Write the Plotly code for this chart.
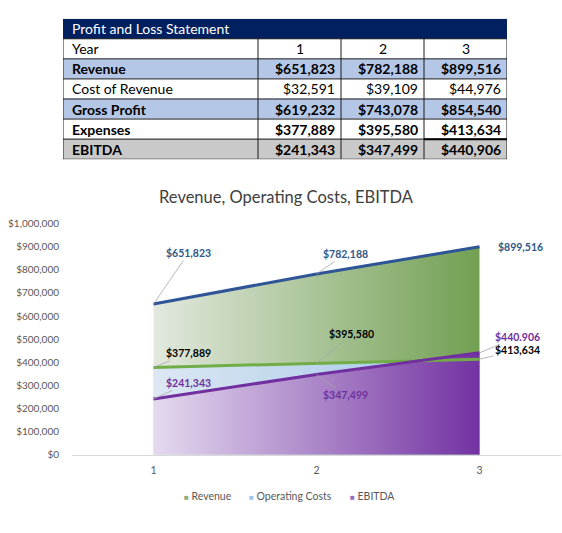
import plotly.graph_objects as go

# Données du compte de résultat
years = [1, 2, 3]
revenue = [651823, 782188, 899516]
cost_of_revenue = [32591, 39109, 44976]
gross_profit = [619232, 743078, 854540]
expenses = [377889, 395580, 413634]
ebitda = [241343, 347499, 440906]

# Tableau : libellés, style de ligne
table_title = "Profit and Loss Statement"
row_labels = ["Year", "Revenue", "Cost of Revenue", "Gross Profit", "Expenses", "EBITDA"]
row_bold = [False, True, False, True, True, True]
row_fill = [1, 2, 1, 2, 1, 3]          # 0 marine, 1 blanc, 2 bleu clair, 3 gris
col_widths = [195, 83, 83, 83]

# étiquettes du graphique (telles qu'affichées)
revenue_labels = ["$651,823", "$782,188", "$899,516"]
expenses_labels = ["$377,889", "$395,580", "$413,634"]
ebitda_labels = ["$241,343", "$347,499", "$440.906"]

# légende
legend_names = ["Revenue", "Operating Costs", "EBITDA"]
legend_colors = ["#8FAF7A", "#9DC3E6", "#9A6CC0"]
legend_left = [182, 247, 348]

FONT = "Lato, 'Open Sans', sans-serif"
W, H = 562, 533


def px(x):
    return x / W


def py(y):
    return 1 - y / H


def money(v):
    return f"${v:,}"


row_values = [
    [str(y) for y in years],
    [money(v) for v in revenue],
    [money(v) for v in cost_of_revenue],
    [money(v) for v in gross_profit],
    [money(v) for v in expenses],
    [money(v) for v in ebitda],
]

col_edges = [0]
for w in col_widths:
    col_edges.append(col_edges[-1] + w)
n_rows = len(row_labels) + 1
row_edges = list(range(n_rows + 1))

fig = go.Figure()

# --- Tableau : fonds de cellules ---
z = [[0] * len(col_widths)] + [[f] * len(col_widths) for f in row_fill]
fig.add_trace(go.Heatmap(
    x=col_edges, y=row_edges, z=z, xaxis="x2", yaxis="y2",
    zmin=0, zmax=3, showscale=False, hoverinfo="skip",
    colorscale=[[0, "#002060"], [1 / 6, "#002060"], [1 / 6, "#FFFFFF"], [0.5, "#FFFFFF"],
                [0.5, "#B4C7E7"], [5 / 6, "#B4C7E7"], [5 / 6, "#C9C9C9"], [1, "#C9C9C9"]],
))

# --- Tableau : quadrillage ---
gx, gy = [], []
for r in row_edges[1:]:
    gx += [col_edges[0], col_edges[-1], None]
    gy += [r, r, None]
for c in col_edges:
    gx += [c, c, None]
    gy += [row_edges[1], row_edges[-1], None]
fig.add_trace(go.Scatter(x=gx, y=gy, xaxis="x2", yaxis="y2", mode="lines",
                         line=dict(color="#1A1A1A", width=1), showlegend=False,
                         hoverinfo="skip"))
# bordure plus épaisse sous la dernière cellule "Expenses"
fig.add_trace(go.Scatter(x=col_edges[-2:], y=[row_edges[-2]] * 2, xaxis="x2", yaxis="y2",
                         mode="lines", line=dict(color="#000000", width=2),
                         showlegend=False, hoverinfo="skip"))

# --- Tableau : textes ---
fig.add_annotation(x=col_edges[0], y=0.5, xref="x2", yref="y2", text=table_title,
                   showarrow=False, xanchor="left", xshift=7,
                   font=dict(family=FONT, size=14, color="white"))
for r, label in enumerate(row_labels):
    yy = r + 1.5
    txt = f"<b>{label}</b>" if row_bold[r] else label
    fig.add_annotation(x=col_edges[0], y=yy, xref="x2", yref="y2", text=txt,
                       showarrow=False, xanchor="left", xshift=7,
                       font=dict(family=FONT, size=14, color="black"))
    for c, val in enumerate(row_values[r]):
        txt = f"<b>{val}</b>" if row_bold[r] else val
        if r == 0:
            xx, anchor, shift = (col_edges[c + 1] + col_edges[c + 2]) / 2, "center", 0
        else:
            xx, anchor, shift = col_edges[c + 2], "right", -4
        fig.add_annotation(x=xx, y=yy, xref="x2", yref="y2", text=txt,
                           showarrow=False, xanchor=anchor, xshift=shift,
                           font=dict(family=FONT, size=14, color="black"))

# --- Graphique : aires en dégradé ---
fig.add_trace(go.Scatter(
    x=years, y=revenue, mode="lines", line=dict(width=0), fill="tozeroy",
    fillgradient=dict(type="horizontal", colorscale=[[0, "#E2E8DE"], [1, "#72A052"]]),
    showlegend=False, hoverinfo="skip"))
fig.add_trace(go.Scatter(
    x=years, y=expenses, mode="lines", line=dict(width=0), fill="tozeroy",
    fillgradient=dict(type="horizontal", colorscale=[[0, "#DCE7F3"], [1, "#9DC3E6"]]),
    showlegend=False, hoverinfo="skip"))
fig.add_trace(go.Scatter(
    x=years, y=ebitda, mode="lines", line=dict(width=0), fill="tozeroy",
    fillgradient=dict(type="horizontal", colorscale=[[0, "#E4DAEF"], [1, "#7332A2"]]),
    showlegend=False, hoverinfo="skip"))

# --- Graphique : lignes ---
fig.add_trace(go.Scatter(x=years, y=revenue, mode="lines", name="Revenue",
                         line=dict(color="#2F5597", width=3), showlegend=False))
fig.add_trace(go.Scatter(x=years, y=expenses, mode="lines", name="Operating Costs",
                         line=dict(color="#70AD47", width=3), showlegend=False))
fig.add_trace(go.Scatter(x=years, y=ebitda, mode="lines", name="EBITDA",
                         line=dict(color="#7030A0", width=3), showlegend=False))

# Étiquettes de données avec lignes de rappel (None = sans ligne de rappel)
offsets = {
    "rev": [(35, -51), (29, -20), None],
    "exp": [(35, -14), (35, -29), (38, -9)],
    "ebi": [(35, -16), (29, 21), (38, -16)],
}
series = [("rev", revenue, revenue_labels, "#2E5A87"),
          ("exp", expenses, expenses_labels, "#000000"),
          ("ebi", ebitda, ebitda_labels, "#7030A0")]
for key, vals, labels, col in series:
    for i in range(3):
        off = offsets[key][i]
        lab_font = dict(family=FONT, size=10.5, color=col)
        if off is None:
            fig.add_annotation(x=years[i], y=vals[i], text=f"<b>{labels[i]}</b>",
                               showarrow=False, xanchor="left", xshift=16,
                               font=lab_font)
        else:
            fig.add_annotation(x=years[i], y=vals[i], text=f"<b>{labels[i]}</b>",
                               showarrow=True, arrowhead=0, arrowwidth=0.8,
                               arrowcolor="#A6A6A6", ax=off[0], ay=off[1],
                               font=lab_font)

# Légende (carré + libellé, serrés comme dans Excel)
for name, col, left in zip(legend_names, legend_colors, legend_left):
    fig.add_annotation(x=px(left), y=py(501), xref="paper", yref="paper",
                       xanchor="left", yanchor="middle", showarrow=False,
                       text=f"<span style='color:{col};font-size:8px'>■</span> {name}",
                       font=dict(family=FONT, size=10.5, color="#595959"))

fig.update_layout(
    width=W, height=H,
    margin=dict(l=0, r=0, t=0, b=0),
    paper_bgcolor="white", plot_bgcolor="white",
    font=dict(family=FONT, color="#595959"),
    title=dict(text="Revenue, Operating Costs, EBITDA", x=px(286), y=py(197),
               xanchor="center", yanchor="middle",
               font=dict(family=FONT, size=16.5, color="#404040")),
    xaxis=dict(domain=[px(72), px(561)], range=[0.5, 3.5], tickvals=years,
               showgrid=False, zeroline=False, showline=True, linecolor="#D9D9D9",
               tickfont=dict(size=10.5, color="#595959"), ticks="", ticklabelstandoff=6),
    yaxis=dict(domain=[py(459), py(222)], range=[0, 1000000], dtick=100000,
               tickformat="$,.0f", showgrid=False, zeroline=False, showline=False,
               tickfont=dict(size=10, color="#595959"), ticklabelstandoff=12),
    xaxis2=dict(domain=[px(63), px(507)], range=[col_edges[0], col_edges[-1]],
                visible=False, fixedrange=True),
    yaxis2=dict(domain=[py(156), py(12)], range=[row_edges[-1], row_edges[0]],
                visible=False, fixedrange=True),
    showlegend=False,
)

# pas de marge par défaut autour de la figure dans la page
fig.write_html("out.html", config={"displayModeBar": False},
               post_script="document.body.style.margin='0';")
